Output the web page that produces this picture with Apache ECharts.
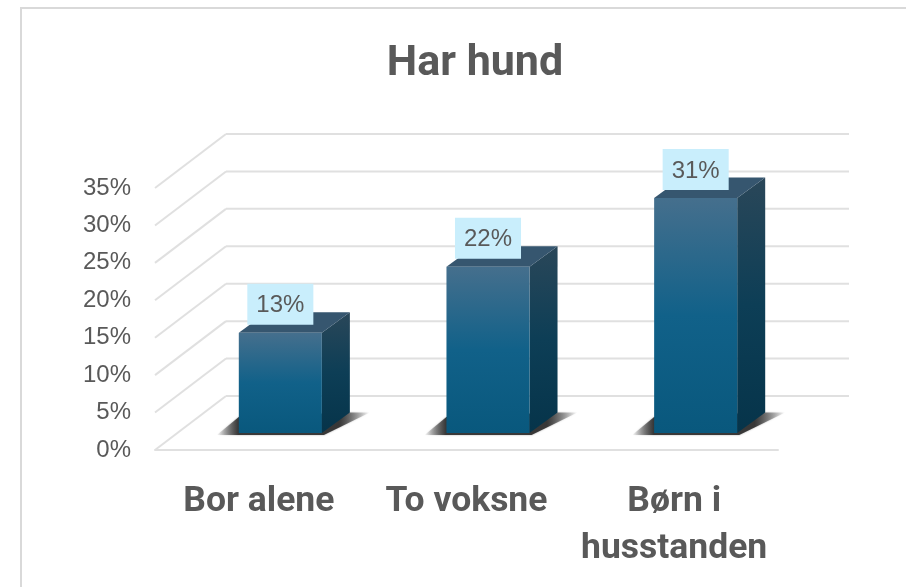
<!DOCTYPE html>
<html>
<head>
<meta charset="utf-8">
<style>
  html, body { margin: 0; padding: 0; background: #fff; }
  #main { width: 906px; height: 587px; }
</style>
<script src="https://cdn.jsdelivr.net/npm/echarts@6/dist/echarts.min.js"></script>
</head>
<body>
<div id="main"></div>
<script>
var categories = ['Bor alene', 'To voksne', 'Børn i\nhusstanden']
var values = [13.4, 22.2, 31.4]
var yTicks = [0, 5, 10, 15, 20, 25, 30, 35]

var textColor = '#595959'
var gridColor = '#e0e0e0'
var labelFont = 'Liberation Sans'
var headFont = 'Roboto'

// depth of the back wall and of the bars, in px
var wallDx = 71
var wallDy = 54
var barShiftX = 21.5
var barShiftY = 17
var barDx = 28
var barDy = 20.5

var myChart = echarts.init(document.getElementById('main'))

function vertical (stops) {
  return new echarts.graphic.LinearGradient(0, 0, 0, 1, stops)
}

function renderWall (params, api) {
  var cs = params.coordSys
  var p = api.coord([0, api.value(0)])
  var y = p[1]
  return {
    type: 'group',
    children: [{
      type: 'line',
      shape: { x1: cs.x, y1: y, x2: cs.x + wallDx, y2: y - wallDy },
      style: { stroke: gridColor, lineWidth: 2 }
    }, {
      type: 'line',
      shape: { x1: cs.x + wallDx, y1: y - wallDy, x2: cs.x + cs.width + wallDx, y2: y - wallDy },
      style: { stroke: gridColor, lineWidth: 2 }
    }]
  }
}

function renderBar (params, api) {
  var idx = api.value(0)
  var val = api.value(1)
  var top = api.coord([idx, val])
  var base = api.coord([idx, 0])
  var w = api.size([1, 0])[0] * 0.4
  var x0 = top[0] + barShiftX - w / 2
  var x1 = x0 + w
  var yt = top[1] - barShiftY
  var yb = base[1] - barShiftY

  return {
    type: 'group',
    children: [{
      // floor shadow
      type: 'polygon',
      shape: {
        points: [
          [x0 - 22, yb + 2],
          [x0, yb - 16],
          [x1 + barDx, yb - barDy],
          [x1 + barDx + 20, yb - barDy],
          [x1 + 2, yb + 2]
        ]
      },
      style: {
        fill: new echarts.graphic.LinearGradient(0, 0, 1, 0, [
          { offset: 0, color: 'rgba(60,60,60,0)' },
          { offset: 0.14, color: 'rgba(50,50,50,0.95)' },
          { offset: 0.8, color: 'rgba(50,50,50,0.95)' },
          { offset: 1, color: 'rgba(60,60,60,0)' }
        ]),
        shadowBlur: 2,
        shadowColor: 'rgba(60,60,60,0.5)'
      }
    }, {
      // right side
      type: 'polygon',
      shape: { points: [[x1, yt], [x1 + barDx, yt - barDy], [x1 + barDx, yb - barDy], [x1, yb]] },
      style: {
        fill: vertical([
          { offset: 0, color: '#2a4759' },
          { offset: 0.5, color: '#0d3e56' },
          { offset: 1, color: '#06344a' }
        ])
      }
    }, {
      // top
      type: 'polygon',
      shape: { points: [[x0, yt], [x0 + barDx, yt - barDy], [x1 + barDx, yt - barDy], [x1, yt]] },
      style: { fill: '#36566f' }
    }, {
      // front
      type: 'rect',
      shape: { x: x0, y: yt, width: w, height: yb - yt },
      style: {
        fill: vertical([
          { offset: 0, color: '#456f8d' },
          { offset: 0.5, color: '#116189' },
          { offset: 1, color: '#09587d' }
        ])
      }
    }, {
      type: 'text',
      style: {
        x: x0 + w / 2,
        y: yt - 8,
        text: Math.round(val) + '%',
        align: 'center',
        verticalAlign: 'bottom',
        fontFamily: labelFont,
        fontSize: 24,
        lineHeight: 24,
        fill: textColor,
        backgroundColor: '#c9eefc',
        padding: [10, 9, 7, 9]
      }
    }]
  }
}

var option = {
  animation: false,
  backgroundColor: '#fff',
  title: {
    text: 'Har hund',
    left: 470,
    top: 34,
    textAlign: 'center',
    textStyle: { color: textColor, fontFamily: headFont, fontWeight: 'bold', fontSize: 43, lineHeight: 50 }
  },
  graphic: [{
    // frame of the chart, runs off the page right and below
    type: 'rect',
    silent: true,
    shape: { x: 21, y: 8, width: 900, height: 600 },
    style: { fill: 'none', stroke: '#d9d9d9', lineWidth: 2 }
  }],
  grid: { left: 155, top: 188, width: 623, height: 262 },
  xAxis: {
    type: 'category',
    data: categories,
    axisLine: { lineStyle: { color: gridColor, width: 2 } },
    axisTick: { show: false },
    axisLabel: {
      color: textColor,
      fontFamily: headFont,
      fontWeight: 'bold',
      fontSize: 35.5,
      lineHeight: 47,
      margin: 29,
      interval: 0
    }
  },
  yAxis: {
    type: 'value',
    min: 0,
    max: 35,
    interval: 5,
    axisLine: { show: false },
    axisTick: { show: false },
    splitLine: { show: false },
    axisLabel: {
      formatter: '{value}%',
      color: textColor,
      fontFamily: labelFont,
      fontSize: 24,
      padding: [9, 0, 0, 0],
      margin: 24
    }
  },
  series: [{
    type: 'custom',
    renderItem: renderWall,
    encode: { y: 0 },
    data: yTicks.map(function (t) { return [t] }),
    silent: true,
    z: 1
  }, {
    type: 'custom',
    renderItem: renderBar,
    encode: { x: 0, y: 1 },
    data: values.map(function (v, i) { return [i, v] }),
    z: 2
  }]
}
myChart.setOption(option)
</script>
</body>
</html>
